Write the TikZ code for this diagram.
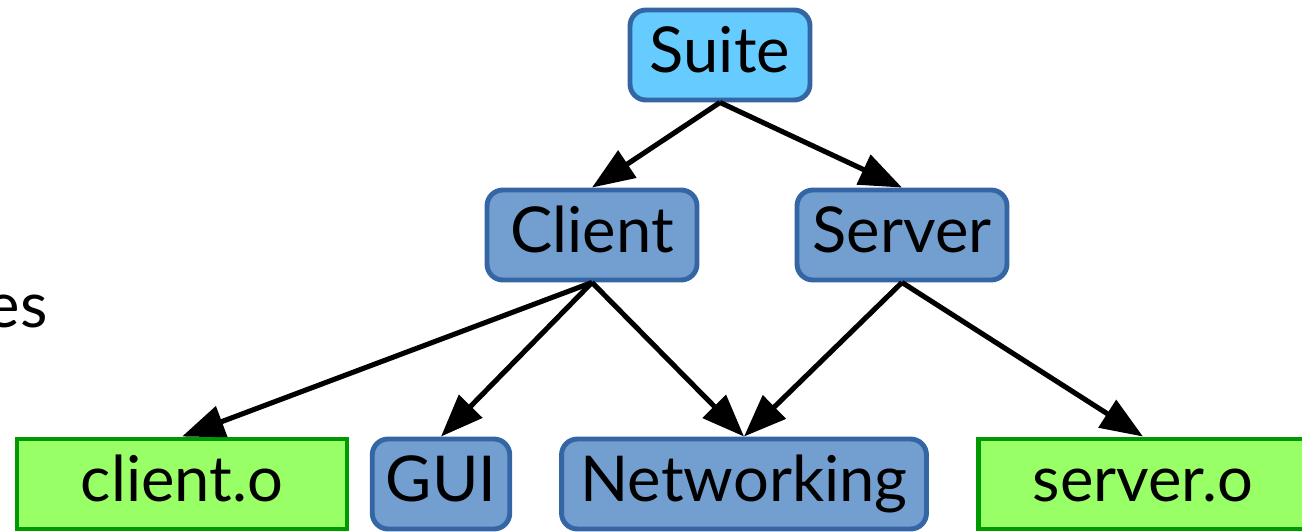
\documentclass[tikz,border=0pt]{standalone}
\usepackage{fontspec}
\setmainfont{Lato}
\usepackage{tikz}
\usetikzlibrary{positioning,arrows.meta}
\definecolor{raiz}{HTML}{66CCFF}
\definecolor{grupo}{HTML}{729FCF}
\definecolor{contorno}{HTML}{3465A4}
\definecolor{objeto}{HTML}{99FF66}
\definecolor{contornoverde}{HTML}{009900}

\begin{document}
\begin{tikzpicture}[x=0.02cm,y=-0.02cm,
    font=\fontsize{36}{43}\selectfont,
    alvo/.style={draw=contorno, line width=2.8pt, rounded corners=9pt, fill=#1,
      minimum height=1.8cm, inner sep=0pt, text height=19.5pt, text depth=0pt},
    objeto/.style={draw=contornoverde, line width=2.8pt, fill=objeto,
      minimum height=1.8cm, minimum width=6.6cm, inner sep=0pt, text height=19.5pt, text depth=0pt},
    seta/.style={-{Triangle[length=8.5mm,width=6.4mm]}, line width=2.9pt, black}]
  \useasboundingbox (0,0) rectangle (1302,531);
  \node[alvo=raiz, minimum width=3.6cm] (suite) at (720,55) {Suite};
  \node[alvo=grupo, minimum width=4.2cm] (client) at (592,235) {Client};
  \node[alvo=grupo, minimum width=4.2cm] (server) at (902,235) {Server};
  \node[objeto] (clo) at (182,484) {client.o};
  \node[alvo=grupo, minimum width=2.75cm] (gui) at (441,484) {GUI};
  \node[alvo=grupo, minimum width=7.3cm] (net) at (744,484) {Networking};
  \node[objeto] (svo) at (1143,484) {server.o};
  \node[anchor=base east, inner sep=0pt] (rotulo) at (48,327) {es};
  \draw[seta] (suite.south) -- (client.north);
  \draw[seta] (suite.south) -- (server.north);
  \draw[seta] (client.south) -- (clo.north);
  \draw[seta] (client.south) -- (gui.north);
  \draw[seta] (client.south) -- (net.north);
  \draw[seta] (server.south) -- (net.north);
  \draw[seta] (server.south) -- (svo.north);
\end{tikzpicture}
\end{document}
